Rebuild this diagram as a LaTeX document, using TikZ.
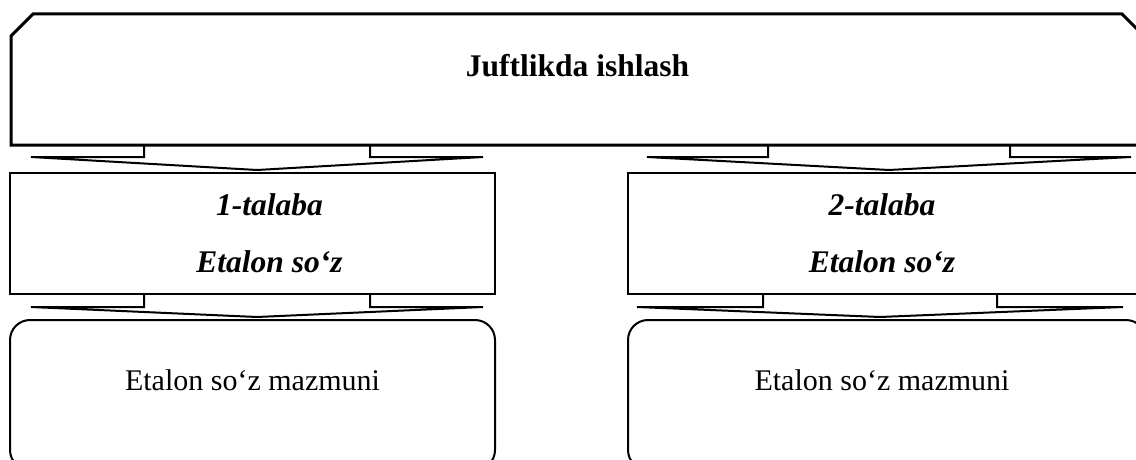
\documentclass[tikz,border=0pt]{standalone}
\usepackage{fontspec}
\setmainfont{Liberation Serif}
\usepackage{tikz}
\usetikzlibrary{calc}
\pgfdeclarelayer{background}
\pgfdeclarelayer{foreground}
\pgfsetlayers{background,main,foreground}

\tikzset{
  headbox/.style={minimum width=1133pt, minimum height=131pt, inner sep=0pt, outer sep=0pt,
    font=\fontsize{31.5}{38}\selectfont\bfseries, text height=22pt, text depth=27pt},
  studbox/.style={draw, line width=2pt, fill=white, minimum width=485pt, minimum height=121pt,
    inner sep=0pt, align=center, font=\fontsize{31.5}{57}\selectfont\bfseries\itshape},
  meanbox/.style={draw, line width=2pt, fill=white, rounded corners=20pt, minimum width=485pt,
    minimum height=150pt, inner sep=0pt, font=\fontsize{30}{36}\selectfont,
    text height=21pt, text depth=31pt},
  arrowbody/.style={draw, line width=2pt, fill=white, line join=miter}
}

% #1 from, #2 to, #3 half stem, #4 half head
\newcommand{\blockarrow}[4]{%
  \draw[arrowbody] ($(#1)+(-#3,0)$) -- ($(#1)+(-#3,12)$) -- ($(#1)+(-#4,12)$)
    -- ($(#1 |- #2)+(0,-2)$) -- ($(#1)+(#4,12)$) -- ($(#1)+(#3,12)$) -- ($(#1)+(#3,0)$);}

\begin{document}
\begin{tikzpicture}[x=1pt,y=-1pt]
\useasboundingbox (0,0) rectangle (1136,460);
\clip (0,0) rectangle (1136,460);

\begin{pgfonlayer}{foreground}
\node[headbox] (top) at (577.5,79.5) {Juftlikda ishlash};
\draw[line width=3pt, line join=miter] (top.south west) -- ([yshift=-22pt]top.north west)
  -- ([xshift=22pt]top.north west) -- ([xshift=-22pt]top.north east)
  -- ([yshift=-22pt]top.north east) -- (top.south east) -- cycle;

\node[studbox] (s1) at (252.5,233.5) {\hspace*{34pt}1-talaba\\\hspace*{34pt}Etalon so‘z};
\node[studbox, minimum width=518pt] (s2) at (887,233.5) {\hspace*{-10pt}2-talaba\\\hspace*{-10pt}Etalon so‘z};

\node[meanbox] (m1) at (252.5,395) {Etalon so‘z mazmuni};
\node[meanbox, minimum width=518pt] (m2) at (887,395) {\hspace*{-10pt}Etalon so‘z mazmuni};
\end{pgfonlayer}

\begin{pgfonlayer}{background}
\coordinate (t1) at ([xshift=4.5pt]top.south -| s1);
\coordinate (t2) at ([xshift=2pt]top.south -| s2);
\coordinate (b1) at ([xshift=4.5pt]s1.south);
\coordinate (b2) at ([xshift=-7pt]s2.south);
\blockarrow{t1}{s1.north}{113}{226}
\blockarrow{t2}{s2.north}{121}{242}
\blockarrow{b1}{m1.north}{113}{226}
\blockarrow{b2}{m2.north}{117}{243}
\end{pgfonlayer}
\end{tikzpicture}
\end{document}
